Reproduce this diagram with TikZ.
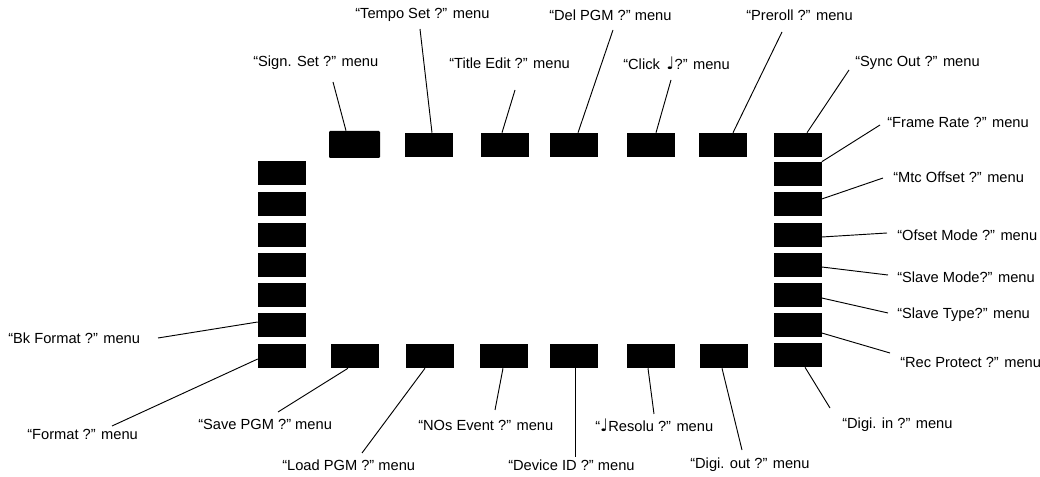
\documentclass[tikz,border=0pt]{standalone}
\usepackage{fontspec}
\setmainfont{Liberation Sans}
\newfontfamily\notefont{DejaVu Sans}
\newcommand{\qnote}{{\notefont\fontsize{13pt}{13pt}\selectfont ♩}}
\begin{document}
\begin{tikzpicture}[x=0.75pt,y=-0.75pt,
  box/.style={fill=black,inner sep=0pt,minimum width=36pt,minimum height=18pt},
  lbl/.style={anchor=west,inner sep=0pt,font=\fontsize{11pt}{13pt}\selectfont},
  lead/.style={line width=0.7pt}]
\useasboundingbox (0,0) rectangle (1040,477);
% top row
\node[box,minimum width=38.25pt,minimum height=20.25pt,rounded corners=0.8pt] (sign) at (354.5,144.5) {};
\node[box] (tempo) at (428.5,145) {};
\node[box] (title) at (504.5,145) {};
\node[box] (del) at (574,145) {};
\node[box] (click) at (651,145) {};
\node[box] (preroll) at (723,145) {};
\node[box] (sync) at (797.5,145) {};
% right column
\node[box] (frame) at (797.5,174) {};
\node[box] (mtc) at (797.5,204.5) {};
\node[box] (ofset) at (797.5,235) {};
\node[box] (smode) at (797.5,265) {};
\node[box] (stype) at (797.5,295) {};
\node[box] (rec) at (797.5,325) {};
\node[box] (digiin) at (797.5,355) {};
% left column
\node[box] (l1) at (282,173.5) {};
\node[box] (l2) at (282,204.5) {};
\node[box] (l3) at (282,235) {};
\node[box] (l4) at (282,265) {};
\node[box] (l5) at (282,295) {};
\node[box] (bk) at (282,325) {};
\node[box] (format) at (282,356) {};
% bottom row
\node[box] (save) at (355,356) {};
\node[box] (load) at (430,356) {};
\node[box] (nos) at (504,356) {};
\node[box] (device) at (574,356) {};
\node[box] (resolu) at (651,356) {};
\node[box] (digiout) at (723.5,356) {};
% labels
\node[lbl] (signL) at (253,63) {“Sign. Set ?” menu};
\node[lbl] (tempoL) at (355,15) {“Tempo Set ?” menu};
\node[lbl] (titleL) at (449,63) {“Title Edit ?” menu};
\node[lbl] (delL) at (549,15) {“Del PGM ?” menu};
\node[lbl] (clickL) at (623,63) {“Click \,\qnote?” menu};
\node[lbl] (prerollL) at (746,15) {“Preroll ?” menu};
\node[lbl] (syncL) at (855,63) {“Sync Out ?” menu};
\node[lbl] (frameL) at (887,122) {“Frame Rate ?” menu};
\node[lbl] (mtcL) at (893,177) {“Mtc Offset ?” menu};
\node[lbl] (ofsetL) at (897,235) {“Ofset Mode ?” menu};
\node[lbl] (smodeL) at (897,277) {“Slave Mode?” menu};
\node[lbl] (stypeL) at (897,315) {“Slave Type?” menu};
\node[lbl] (recL) at (900,362) {“Rec Protect ?” menu};
\node[lbl] (digiinL) at (842,425) {“Digi. in ?” menu};
\node[lbl] (bkL) at (8,338) {“Bk Format ?” menu};
\node[lbl] (formatL) at (27,434) {“Format ?” menu};
\node[lbl] (saveL) at (198,424) {“Save PGM ?” menu};
\node[lbl] (loadL) at (282,465) {“Load PGM ?” menu};
\node[lbl] (nosL) at (418,425) {“NOs Event ?” menu};
\node[lbl] (deviceL) at (508,465) {“Device ID ?” menu};
\node[lbl] (resoluL) at (595,425) {“\qnote Resolu ?” menu};
\node[lbl] (digioutL) at (690,465) {“Digi. out ?” menu};
% leader ends
\coordinate (cSign) at (333,82);
\coordinate (cTempo) at (420,29);
\coordinate (cTitle) at (515,90);
\coordinate (cDel) at (613,30);
\coordinate (cClick) at (671,80);
\coordinate (cPreroll) at (782,32);
\coordinate (cSync) at (849,70);
\coordinate (cFrame) at (880,125);
\coordinate (cMtc) at (883,178);
\coordinate (cOfset) at (887,233);
\coordinate (cSmode) at (888,275);
\coordinate (cStype) at (888,313);
\coordinate (cRec) at (890,353);
\coordinate (cDigiin) at (830,408);
\coordinate (cBk) at (158,338);
\coordinate (cFormat) at (112,426);
\coordinate (cSave) at (278,412);
\coordinate (cLoad) at (362,453);
\coordinate (cNos) at (495,410);
\coordinate (cDevice) at (575,457);
\coordinate (cResolu) at (654,414);
\coordinate (cDigiout) at (742,450);
% leaders
\draw[lead] (sign.north -| 346,0) -- (cSign);
\draw[lead] (tempo.north -| 432,0) -- (cTempo);
\draw[lead] (title.north -| 502,0) -- (cTitle);
\draw[lead] (del.north -| 578,0) -- (cDel);
\draw[lead] (click.north -| 656,0) -- (cClick);
\draw[lead] (preroll.north -| 733,0) -- (cPreroll);
\draw[lead] (sync.north -| 807,0) -- (cSync);
\draw[lead] (frame.north east) -- (cFrame);
\draw[lead] (mtc.east |- 0,199) -- (cMtc);
\draw[lead] (ofset.east |- 0,237) -- (cOfset);
\draw[lead] (smode.east |- 0,267) -- (cSmode);
\draw[lead] (stype.east |- 0,298) -- (cStype);
\draw[lead] (rec.east |- 0,333) -- (cRec);
\draw[lead] (digiin.south -| 805,0) -- (cDigiin);
\draw[lead] (bk.west |- 0,322) -- (cBk);
\draw[lead] (format.west |- 0,359) -- (cFormat);
\draw[lead] (save.south -| 348,0) -- (cSave);
\draw[lead] (load.south -| 425,0) -- (cLoad);
\draw[lead] (nos.south -| 503,0) -- (cNos);
\draw[lead] (device.south -| 575,0) -- (cDevice);
\draw[lead] (resolu.south -| 648,0) -- (cResolu);
\draw[lead] (digiout.south -| 722,0) -- (cDigiout);
\end{tikzpicture}
\end{document}
